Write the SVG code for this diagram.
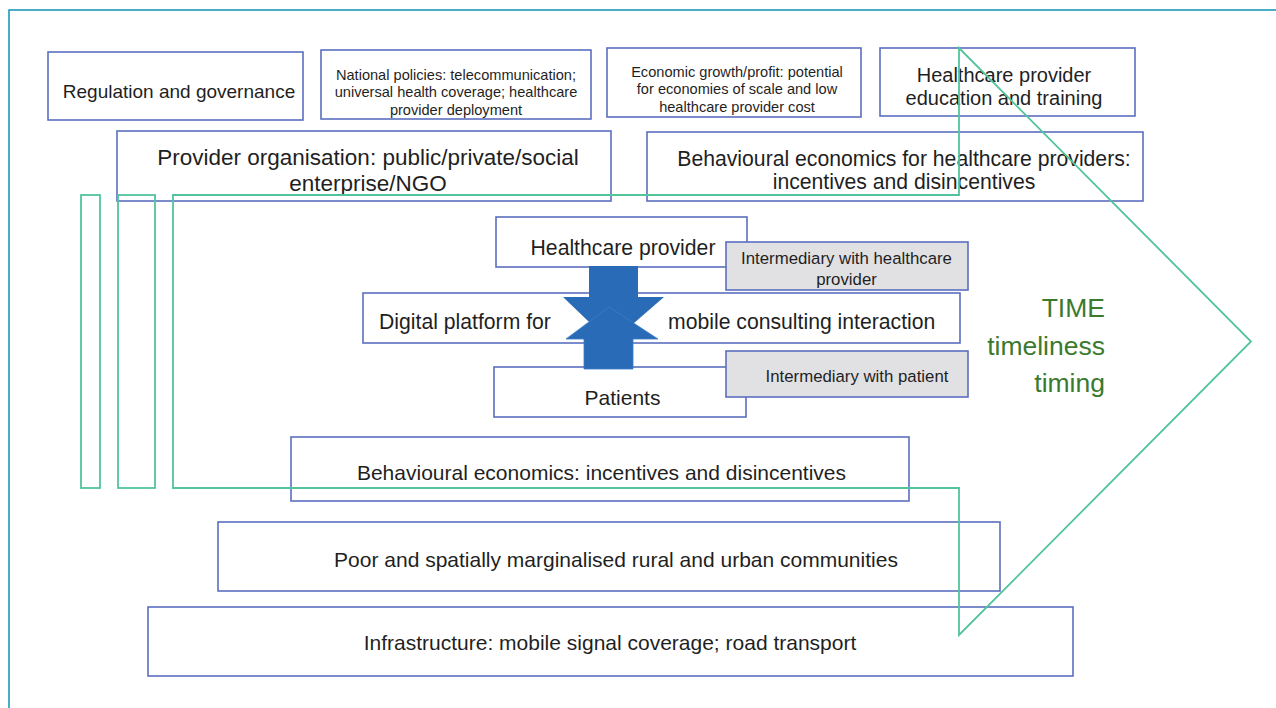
<svg xmlns="http://www.w3.org/2000/svg" width="1276" height="708" viewBox="0 0 1276 708">
<style>
.box{fill:#ffffff;stroke:#5a6fc0;stroke-width:1.6}
.gbox{fill:#e1e1e4;stroke:#5a6fc0;stroke-width:1.6}
.t{font-family:"Liberation Sans",Arial,sans-serif;fill:#1f1f1f;text-anchor:middle}
.time{font-family:"Liberation Sans",Arial,sans-serif;fill:#3b7a2e;text-anchor:end;font-size:26.5px}
.grn{fill:none;stroke:#52c49c;stroke-width:1.8}
.blu{fill:#2a6bb8}
</style>
<rect x="0" y="0" width="1276" height="708" fill="#ffffff"/>
<rect x="9" y="10" width="1290" height="730" fill="none" stroke="#1d9ab7" stroke-width="1.6"/>

<g id="regulation"><rect class="box" x="48" y="52" width="255" height="68"/><text class="t" x="179" y="98" font-size="19">Regulation and governance</text></g>
<g id="national-policies"><rect class="box" x="321" y="50" width="270" height="69"/><text class="t" font-size="14.6"><tspan x="456" y="80">National policies: telecommunication;</tspan><tspan x="456" y="97.3">universal health coverage; healthcare</tspan><tspan x="456" y="114.6">provider deployment</tspan></text></g>
<g id="economic-growth"><rect class="box" x="607" y="48" width="254" height="69"/><text class="t" font-size="14.6"><tspan x="737" y="76.5">Economic growth/profit: potential</tspan><tspan x="737" y="94">for economies of scale and low</tspan><tspan x="737" y="111.5">healthcare provider cost</tspan></text></g>
<g id="provider-education"><rect class="box" x="880" y="48" width="255" height="68"/><text class="t" font-size="20"><tspan x="1004" y="81.5">Healthcare provider</tspan><tspan x="1004" y="104.5">education and training</tspan></text></g>
<g id="provider-organisation"><rect class="box" x="117" y="131" width="494" height="70"/><text class="t" font-size="22.5"><tspan x="368" y="165">Provider organisation: public/private/social</tspan><tspan x="368" y="190.5">enterprise/NGO</tspan></text></g>
<g id="behavioural-providers"><rect class="box" x="647" y="132" width="496" height="69"/><text class="t" font-size="21.2"><tspan x="904" y="165.5">Behavioural economics for healthcare providers:</tspan><tspan x="904" y="188.5">incentives and disincentives</tspan></text></g>
<g id="healthcare-provider"><rect class="box" x="496" y="217" width="251" height="50"/><text class="t" x="623" y="255" font-size="21.2">Healthcare provider</text></g>
<g id="digital-platform"><rect class="box" x="363" y="293" width="597" height="50"/><text class="t" font-size="21.2"><tspan x="379" y="329" text-anchor="start">Digital platform for</tspan><tspan x="668" y="329" text-anchor="start">mobile consulting interaction</tspan></text></g>
<g id="patients"><rect class="box" x="494" y="367" width="252" height="50"/><text class="t" x="622.5" y="405" font-size="21">Patients</text></g>

<g id="connectors">
<polygon class="blu" points="589,266 638,266 638,297 664,297 611,343 563,297 589,297"/>
<polygon class="blu" points="584,369 633,369 633,339 658,339 609,307 566,339 584,339" stroke="#3a7cc6" stroke-width="0.8"/>
</g>

<g id="intermediary-provider"><rect class="gbox" x="726" y="242" width="242" height="48"/><text class="t" font-size="16.8"><tspan x="846.5" y="264">Intermediary with healthcare</tspan><tspan x="846.5" y="284.5">provider</tspan></text></g>
<g id="intermediary-patient"><rect class="gbox" x="726" y="351" width="242" height="46"/><text class="t" x="857" y="382" font-size="16.8">Intermediary with patient</text></g>
<g id="behavioural-economics"><rect class="box" x="291" y="437" width="618" height="64"/><text class="t" x="601.5" y="480" font-size="21">Behavioural economics: incentives and disincentives</text></g>
<g id="communities"><rect class="box" x="218" y="522" width="782" height="69"/><text class="t" x="616" y="567" font-size="21">Poor and spatially marginalised rural and urban communities</text></g>
<g id="infrastructure"><rect class="box" x="148" y="607" width="925" height="69"/><text class="t" x="610" y="650" font-size="21">Infrastructure: mobile signal coverage; road transport</text></g>

<g id="time-arrow">
<rect class="grn" x="81" y="195" width="19" height="293"/>
<rect class="grn" x="118" y="195" width="37" height="293"/>
<polygon class="grn" points="173,195 959,195 959,48 1251,341.5 959,635 959,488 173,488"/>
<text class="time"><tspan x="1105" y="317">TIME</tspan><tspan x="1105" y="355">timeliness</tspan><tspan x="1105" y="392">timing</tspan></text>
</g>
</svg>
